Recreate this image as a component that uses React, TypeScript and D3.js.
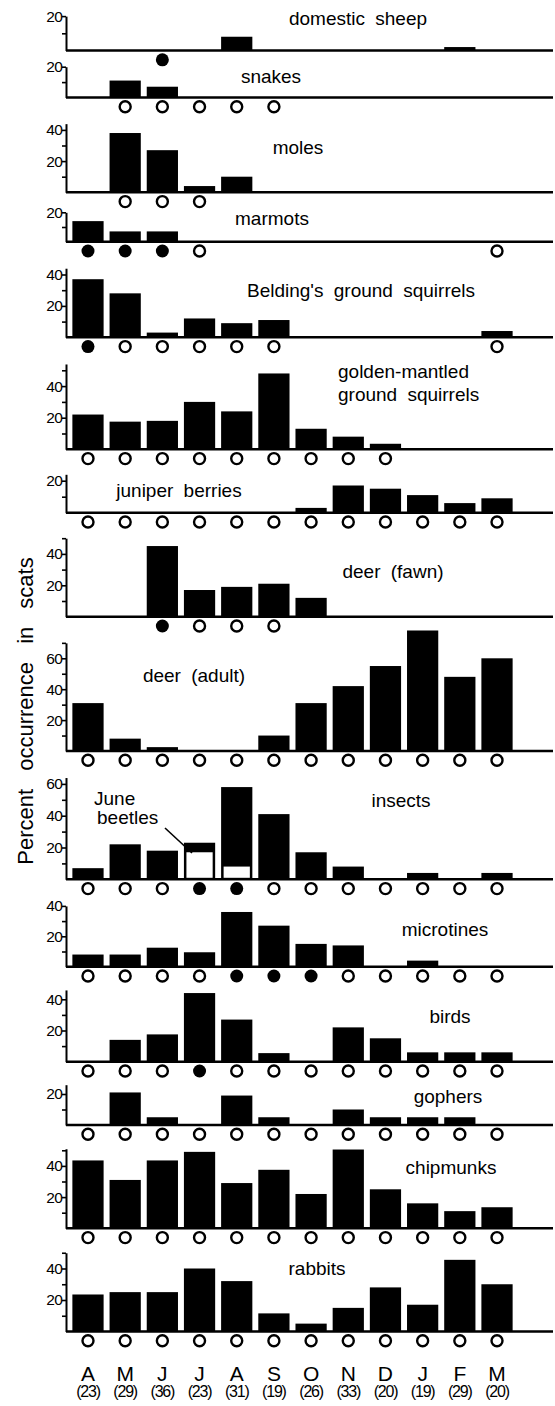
import { useEffect, useRef } from "react";
import * as d3 from "d3";

const months = ["A", "M", "J", "J", "A", "S", "O", "N", "D", "J", "F", "M"];
const sampleSizes = [23, 29, 36, 23, 31, 19, 26, 33, 20, 19, 29, 20];

// percent occurrence in scats, April .. March
const sheep = [0, 0, 0, 0, 8, 0, 0, 0, 0, 0, 2, 0];
const snakes = [0, 11, 7, 0, 0, 0, 0, 0, 0, 0, 0, 0];
const moles = [0, 38, 27, 4, 10, 0, 0, 0, 0, 0, 0, 0];
const marmots = [14, 7, 7, 0, 0, 0, 0, 0, 0, 0, 0, 0];
const belding = [37, 28, 3, 12, 9, 11, 0, 0, 0, 0, 0, 4];
const goldenMantled = [22, 17.5, 18, 30, 24, 48, 13, 8, 3.5, 0, 0, 0];
const juniper = [0, 0, 0, 0, 0, 0, 3, 17, 15, 11, 6, 9];
const deerFawn = [0, 0, 45, 17, 19, 21, 12, 0, 0, 0, 0, 0];
const deerAdult = [31, 8, 2.5, 0, 0, 10, 31, 42, 55, 78, 48, 60];
const insects = [7, 22, 18, 23, 58, 41, 17, 8, 0, 4, 0, 4];
const juneBeetles = [0, 0, 0, 17, 8, 0, 0, 0, 0, 0, 0, 0];
const microtines = [8, 8, 12.5, 9.5, 36, 27, 15, 14, 0, 4, 0, 0];
const birds = [0, 14, 17.5, 44, 27, 5.5, 0, 22, 15, 6, 6, 6];
const gophers = [0, 21, 5, 0, 19, 5, 0, 10, 5, 5, 5, 0];
const chipmunks = [43.5, 31, 43.5, 49, 29, 37.5, 22, 50.5, 25, 16, 11, 13.5];
const rabbits = [23.5, 25, 25, 40, 32, 11.5, 5, 15, 28, 17, 45.5, 30];

// circles under the bars: 0 none, 1 open, 2 filled
const sheepMarks = [0, 0, 2, 0, 0, 0, 0, 0, 0, 0, 0, 0];
const snakeMarks = [0, 1, 1, 1, 1, 1, 0, 0, 0, 0, 0, 0];
const moleMarks = [0, 1, 1, 1, 0, 0, 0, 0, 0, 0, 0, 0];
const marmotMarks = [2, 2, 2, 1, 0, 0, 0, 0, 0, 0, 0, 1];
const beldingMarks = [2, 1, 1, 1, 1, 1, 0, 0, 0, 0, 0, 1];
const goldenMarks = [1, 1, 1, 1, 1, 1, 1, 1, 1, 0, 0, 0];
const allOpen = [1, 1, 1, 1, 1, 1, 1, 1, 1, 1, 1, 1];
const fawnMarks = [0, 0, 2, 1, 1, 1, 0, 0, 0, 0, 0, 0];
const insectMarks = [1, 1, 1, 2, 2, 1, 1, 1, 1, 1, 1, 1];
const microtineMarks = [1, 1, 1, 1, 2, 2, 2, 1, 1, 1, 1, 1];
const birdMarks = [1, 1, 1, 2, 1, 1, 1, 1, 1, 1, 1, 1];

const panels = [
  { label: ["domestic sheep"], values: sheep, marks: sheepMarks, top: 20 },
  { label: ["snakes"], values: snakes, marks: snakeMarks, top: 20 },
  { label: ["moles"], values: moles, marks: moleMarks, top: 44 },
  { label: ["marmots"], values: marmots, marks: marmotMarks, top: 20 },
  { label: ["Belding's ground squirrels"], values: belding, marks: beldingMarks, top: 44 },
  { label: ["golden-mantled", "ground squirrels"], values: goldenMantled, marks: goldenMarks, top: 54 },
  { label: ["juniper berries"], values: juniper, marks: allOpen, top: 24 },
  { label: ["deer (fawn)"], values: deerFawn, marks: fawnMarks, top: 50 },
  { label: ["deer (adult)"], values: deerAdult, marks: allOpen, top: 70 },
  { label: ["insects"], values: insects, marks: insectMarks, top: 64, inner: juneBeetles },
  { label: ["microtines"], values: microtines, marks: microtineMarks, top: 40 },
  { label: ["birds"], values: birds, marks: birdMarks, top: 46 },
  { label: ["gophers"], values: gophers, marks: allOpen, top: 26 },
  { label: ["chipmunks"], values: chipmunks, marks: allOpen, top: 51 },
  { label: ["rabbits"], values: rabbits, marks: allOpen, top: 50 },
];

// where each panel sits: baseline y, px per percent, label position
const layout = [
  { base: 50.5, k: 1.72, lx: 358, ly: 18, anchor: "middle" },
  { base: 97.5, k: 1.54, lx: 271, ly: 76, anchor: "middle" },
  { base: 192.3, k: 1.56, lx: 298, ly: 147, anchor: "middle" },
  { base: 241.7, k: 1.47, lx: 272, ly: 218, anchor: "middle" },
  { base: 337.3, k: 1.57, lx: 361, ly: 290, anchor: "middle" },
  { base: 449.3, k: 1.58, lx: 338, ly: 371, anchor: "start" },
  { base: 512.7, k: 1.6, lx: 179, ly: 490, anchor: "middle" },
  { base: 616.7, k: 1.57, lx: 393, ly: 571, anchor: "middle" },
  { base: 751, k: 1.545, lx: 194, ly: 675, anchor: "middle" },
  { base: 879.3, k: 1.59, lx: 401, ly: 800, anchor: "middle" },
  { base: 966.7, k: 1.52, lx: 445, ly: 929, anchor: "middle" },
  { base: 1061.7, k: 1.56, lx: 450, ly: 1016, anchor: "middle" },
  { base: 1125, k: 1.55, lx: 448, ly: 1096, anchor: "middle" },
  { base: 1228.3, k: 1.56, lx: 451, ly: 1167, anchor: "middle" },
  { base: 1331.5, k: 1.575, lx: 317, ly: 1268, anchor: "middle" },
];

const FONT = "'Liberation Sans', Arial, Helvetica, sans-serif";
const W = 555;
const H = 1406;
const AXIS_X = 66;

export default function App() {
  const ref = useRef<SVGSVGElement>(null);

  useEffect(() => {
    const svg = d3.select(ref.current);
    svg.selectAll("*").remove();

    const x = d3
      .scaleBand<number>()
      .domain(d3.range(12))
      .range([69.4, 515.6])
      .paddingInner(0.16)
      .paddingOuter(0.08);
    const bw = x.bandwidth();

    panels.forEach((p, pi) => {
      const L = layout[pi];
      const y = d3
        .scaleLinear()
        .domain([0, p.top])
        .range([L.base, L.base - L.k * p.top]);
      const g = svg.append("g");

      // bars
      g.selectAll("rect.bar")
        .data(p.values.map((v, i) => ({ v, i })).filter((d) => d.v > 0))
        .join("rect")
        .attr("class", "bar")
        .attr("x", (d) => x(d.i)!)
        .attr("width", bw)
        .attr("y", (d) => y(d.v))
        .attr("height", (d) => L.base - y(d.v))
        .attr("fill", "#000");

      if (p.inner) {
        g.selectAll("rect.inner")
          .data(p.inner.map((v, i) => ({ v, i })).filter((d) => d.v > 0))
          .join("rect")
          .attr("class", "inner")
          .attr("x", (d) => x(d.i)! + 2.5)
          .attr("width", bw - 5)
          .attr("y", (d) => y(d.v))
          .attr("height", (d) => L.base - y(d.v) - 1.5)
          .attr("fill", "#fff");
      }

      // y axis
      const ticks = d3.range(10, p.top + 0.01, 10);
      const axis = g
        .append("g")
        .attr("transform", `translate(${AXIS_X},0)`)
        .call(
          d3
            .axisLeft(y)
            .tickValues(ticks)
            .tickSize(4)
            .tickSizeOuter(0)
            .tickPadding(0)
            .tickFormat((d) => ((d as number) % 20 === 0 ? String(d) : ""))
        );
      axis.select(".domain").attr("stroke-width", 2).attr("stroke", "#000");
      axis.selectAll(".tick line").attr("stroke-width", 1.6).attr("stroke", "#000");
      axis
        .selectAll(".tick text")
        .attr("font-size", 15.5)
        .attr("font-family", FONT)
        .attr("fill", "#000")
        .attr("letter-spacing", -0.8);

      // baseline
      g.append("line")
        .attr("x1", AXIS_X)
        .attr("x2", 553)
        .attr("y1", L.base)
        .attr("y2", L.base)
        .attr("stroke", "#000")
        .attr("stroke-width", 2.4);

      // circles
      g.selectAll("circle")
        .data(p.marks.map((m, i) => ({ m, i })).filter((d) => d.m > 0))
        .join("circle")
        .attr("cx", (d) => x(d.i)! + bw / 2)
        .attr("cy", L.base + 9.3)
        .attr("r", (d) => (d.m === 2 ? 6.5 : 5.5))
        .attr("fill", (d) => (d.m === 2 ? "#000" : "#fff"))
        .attr("stroke", "#000")
        .attr("stroke-width", (d) => (d.m === 2 ? 0 : 2.4));

      // panel label
      const t = g
        .append("text")
        .attr("x", L.lx)
        .attr("y", L.ly)
        .attr("text-anchor", L.anchor)
        .attr("dominant-baseline", "central")
        .attr("font-family", FONT)
        .attr("font-size", 19)
        .attr("word-spacing", 5)
        .attr("fill", "#000");
      p.label.forEach((line, li) => {
        t.append("tspan")
          .attr("x", L.lx)
          .attr("dy", li === 0 ? 0 : 23)
          .text(line);
      });
    });

    // June beetles annotation
    const ann = svg.append("g").attr("font-family", FONT).attr("font-size", 19).attr("fill", "#000");
    ann.append("text").attr("x", 94).attr("y", 798).attr("dominant-baseline", "central").text("June");
    ann.append("text").attr("x", 97).attr("y", 817).attr("dominant-baseline", "central").text("beetles");
    svg
      .append("line")
      .attr("x1", 165)
      .attr("y1", 828)
      .attr("x2", 192)
      .attr("y2", 853)
      .attr("stroke", "#000")
      .attr("stroke-width", 1.6);

    // month labels
    const mg = svg.append("g").attr("font-family", FONT).attr("fill", "#000").attr("text-anchor", "middle");
    mg.selectAll("text.m")
      .data(months)
      .join("text")
      .attr("class", "m")
      .attr("x", (_, i) => x(i)! + bw / 2)
      .attr("y", 1373)
      .attr("dominant-baseline", "central")
      .attr("font-size", 21)
      .text((d) => d);
    mg.selectAll("text.n")
      .data(sampleSizes)
      .join("text")
      .attr("class", "n")
      .attr("x", (_, i) => x(i)! + bw / 2)
      .attr("y", 1391)
      .attr("dominant-baseline", "central")
      .attr("font-size", 16)
      .attr("letter-spacing", -1.2)
      .text((d) => `(${d})`);

    // y title
    svg
      .append("text")
      .attr("transform", "translate(25,711) rotate(-90)")
      .attr("text-anchor", "middle")
      .attr("dominant-baseline", "central")
      .attr("font-family", FONT)
      .attr("font-size", 22)
      .attr("word-spacing", 12)
      .attr("fill", "#000")
      .text("Percent occurrence in scats");
  }, []);

  return (
    <svg
      ref={ref}
      width={W}
      height={H}
      style={{ position: "absolute", left: 0, top: 0, background: "#fff" }}
    />
  );
}
